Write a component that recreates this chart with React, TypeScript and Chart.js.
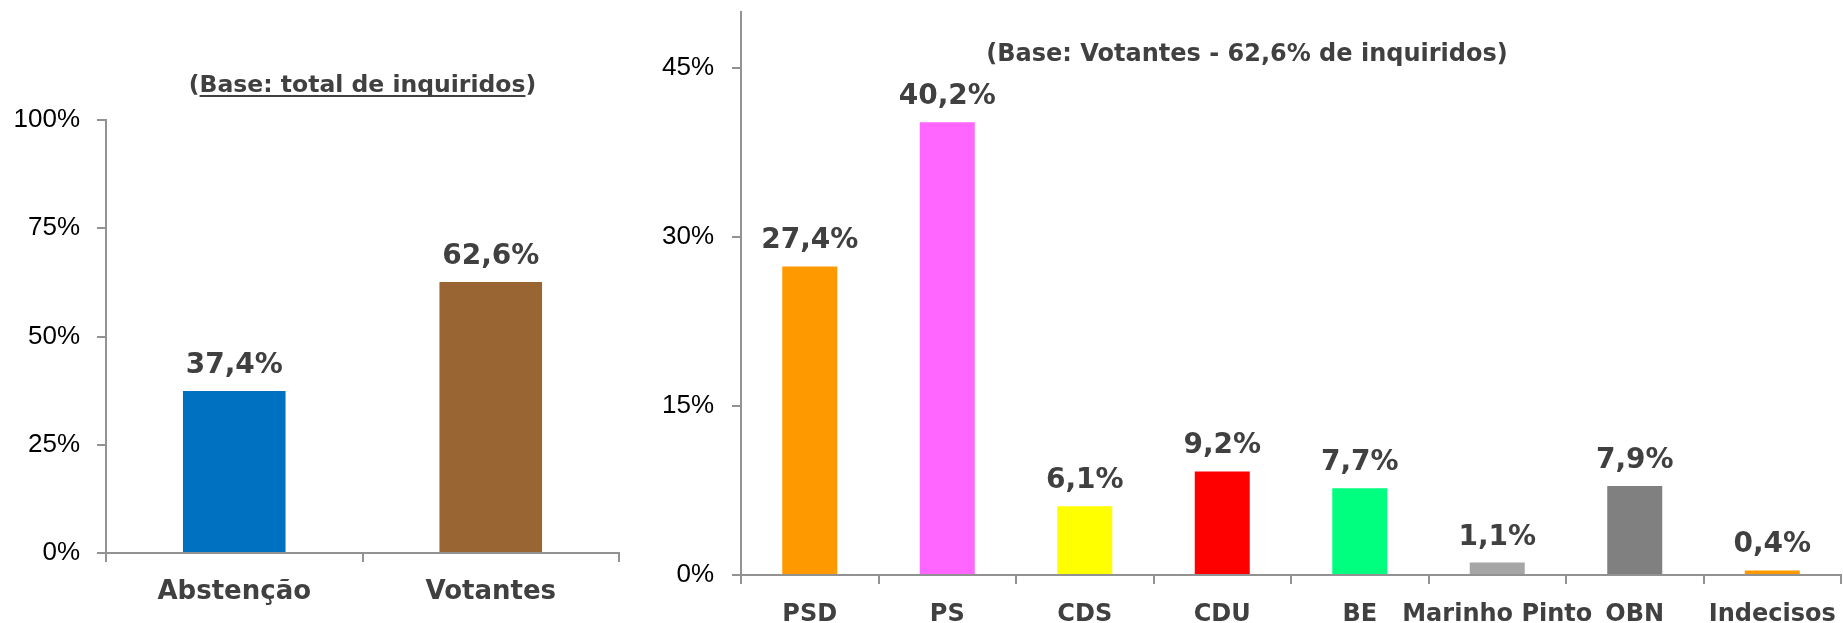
import React, { useEffect, useRef } from 'react';
import { Chart, registerables } from 'chart.js';

Chart.register(...registerables);

// ---- data ----
const leftCategories = ['Abstenção', 'Votantes'];
const leftValues = [37.4, 62.6];
const leftColors = ['#0070C0', '#996633'];
const leftTicks = [0, 25, 50, 75, 100];
const leftMax = 100;
const leftTitle = '(Base: total de inquiridos)';

const rightCategories = ['PSD', 'PS', 'CDS', 'CDU', 'BE', 'Marinho Pinto', 'OBN', 'Indecisos'];
const rightValues = [27.4, 40.2, 6.1, 9.2, 7.7, 1.1, 7.9, 0.4];
const rightColors = ['#FF9900', '#FF66FF', '#FFFF00', '#FF0000', '#00FF7F', '#A6A6A6', '#808080', '#FF9900'];
const rightTicks = [0, 15, 30, 45];
const rightMax = 50;
const rightTitle = '(Base: Votantes - 62,6% de inquiridos)';

// ---- styles ----
const AXIS = '#929292';
const DARK = '#404040';
const BOLD = "'DejaVu Sans', sans-serif";
const REG = "'Liberation Sans', sans-serif";

const valueLabels = {
  id: 'valueLabels',
  afterDatasetsDraw(chart: any, _args: any, opts: any) {
    const ctx = chart.ctx;
    const meta = chart.getDatasetMeta(0);
    const data = chart.data.datasets[0].data as number[];
    ctx.save();
    ctx.font = opts.font;
    ctx.fillStyle = opts.color;
    ctx.textAlign = 'center';
    ctx.textBaseline = 'alphabetic';
    meta.data.forEach((bar: any, i: number) => {
      const txt = data[i].toFixed(1).replace('.', ',') + '%';
      ctx.fillText(txt, bar.x, bar.y - opts.offset);
    });
    ctx.restore();
  },
};

const panelTitle = {
  id: 'panelTitle',
  afterDraw(chart: any, _args: any, opts: any) {
    if (!opts || !opts.text) return;
    const { ctx, chartArea } = chart;
    const cx = opts.centerOnArea ? (chartArea.left + chartArea.right) / 2 : chart.width / 2;
    ctx.save();
    ctx.font = opts.font;
    ctx.fillStyle = opts.color;
    ctx.textAlign = 'center';
    ctx.textBaseline = 'alphabetic';
    ctx.fillText(opts.text, cx, opts.y);
    if (opts.underline) {
      const total = ctx.measureText(opts.text).width;
      const left = cx - total / 2;
      const pre = ctx.measureText(opts.text.slice(0, opts.underline[0])).width;
      const mid = ctx.measureText(opts.text.slice(opts.underline[0], opts.underline[1])).width;
      ctx.fillRect(left + pre, opts.y + 3, mid, 2);
    }
    ctx.restore();
  },
};

function makeConfig(p: any) {
  return {
    type: 'bar',
    data: {
      labels: p.categories,
      datasets: [
        {
          data: p.values,
          backgroundColor: p.colors,
          borderWidth: 0,
          barPercentage: 0.4,
          categoryPercentage: 1.0,
        },
      ],
    },
    plugins: [valueLabels, panelTitle],
    options: {
      responsive: false,
      animation: false,
      devicePixelRatio: 1,
      layout: { padding: p.padding },
      plugins: {
        legend: { display: false },
        tooltip: { enabled: false },
        title: { display: false },
        valueLabels: { font: `bold ${p.valueSize}px ${BOLD}`, color: DARK, offset: p.valueOffset },
        panelTitle: p.title,
      },
      scales: {
        x: {
          offset: true,
          grid: {
            display: true,
            offset: true,
            drawOnChartArea: false,
            drawTicks: true,
            tickLength: 9,
            tickColor: AXIS,
            tickWidth: 2,
            lineWidth: 2,
            color: AXIS,
          },
          border: { display: true, color: AXIS, width: 2 },
          ticks: {
            autoSkip: false,
            maxRotation: 0,
            minRotation: 0,
            font: { family: BOLD, size: p.catSize, weight: 'bold' },
            color: DARK,
            padding: p.catPadding,
          },
          afterFit: (s: any) => {
            s.height = p.xHeight;
            s.paddingLeft = 0;
            s.paddingRight = 0;
            s.paddingTop = 0;
            s.paddingBottom = 0;
          },
        },
        y: {
          min: 0,
          max: p.max,
          afterBuildTicks: (s: any) => {
            s.ticks = p.ticks.map((v: number) => ({ value: v }));
          },
          grid: {
            display: true,
            drawOnChartArea: false,
            drawTicks: true,
            tickLength: 9,
            tickColor: AXIS,
            tickWidth: 2,
            lineWidth: 2,
            color: AXIS,
          },
          border: { display: true, color: AXIS, width: 2 },
          ticks: {
            callback: (v: any) => v + '%',
            font: { family: REG, size: 26 },
            color: '#000000',
            padding: p.yPadding,
          },
          afterFit: (s: any) => {
            s.width = p.yWidth;
            s.paddingLeft = 0;
            s.paddingRight = 0;
            s.paddingTop = 0;
            s.paddingBottom = 0;
          },
        },
      },
    },
  };
}

function BarPanel(props: { left: number; width: number; height: number; params: any }) {
  const ref = useRef<HTMLCanvasElement | null>(null);
  useEffect(() => {
    if (!ref.current) return;
    const chart = new Chart(ref.current, makeConfig(props.params) as any);
    return () => chart.destroy();
  }, []);
  return (
    <canvas
      ref={ref}
      width={props.width}
      height={props.height}
      style={{ position: 'absolute', left: props.left, top: 0, width: props.width, height: props.height }}
    />
  );
}

export default function App() {
  const leftParams = {
    categories: leftCategories,
    values: leftValues,
    colors: leftColors,
    ticks: leftTicks,
    max: leftMax,
    padding: { left: 0, right: 21, top: 120, bottom: 0 },
    xHeight: 70,
    yWidth: 106,
    yPadding: 17,
    catSize: 26,
    catPadding: 15,
    valueSize: 28,
    valueOffset: 18,
    title: {
      text: leftTitle,
      font: `bold 23.5px ${BOLD}`,
      color: DARK,
      y: 92,
      centerOnArea: true,
      underline: [1, leftTitle.length - 1],
    },
  };
  const rightParams = {
    categories: rightCategories,
    values: rightValues,
    colors: rightColors,
    ticks: rightTicks,
    max: rightMax,
    padding: { left: 0, right: 2, top: 12, bottom: 0 },
    xHeight: 48,
    yWidth: 90,
    yPadding: 18,
    catSize: 24,
    catPadding: 16,
    valueSize: 28,
    valueOffset: 18,
    title: {
      text: rightTitle,
      font: `bold 24px ${BOLD}`,
      color: DARK,
      y: 61,
      centerOnArea: false,
    },
  };
  return (
    <div style={{ position: 'absolute', left: 0, top: 0, width: 1843, height: 623, background: '#ffffff', overflow: 'hidden' }}>
      <BarPanel left={0} width={640} height={623} params={leftParams} />
      <BarPanel left={651} width={1192} height={623} params={rightParams} />
    </div>
  );
}
